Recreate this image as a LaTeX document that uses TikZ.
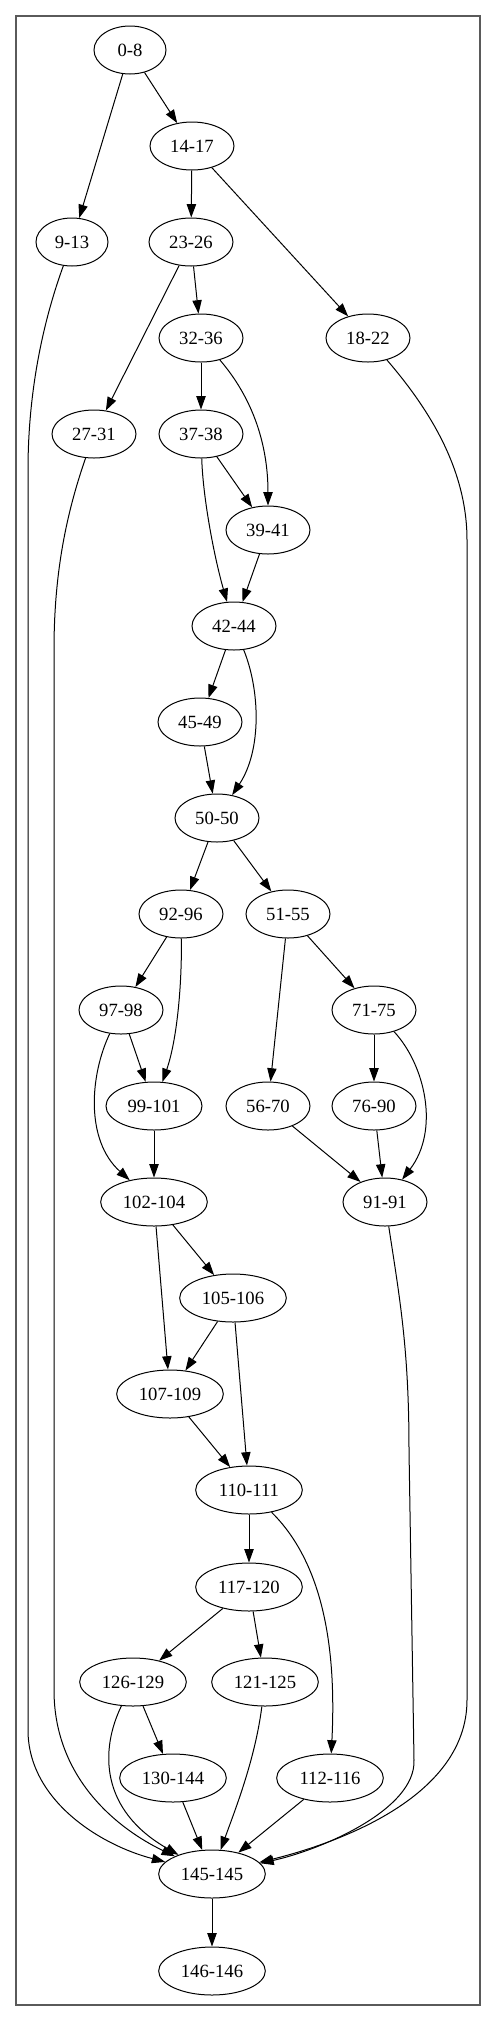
\documentclass[tikz,border=0pt]{standalone}
\usepackage{fontspec}
\setmainfont{Liberation Serif}
\usetikzlibrary{arrows.meta,positioning,calc}
\usetikzlibrary{shapes}

\definecolor{framegray}{RGB}{90,90,90}

\tikzset{
  rng/.style={draw, ellipse, line width=0.75pt, minimum height=36pt,
    minimum width=#1, inner sep=0pt, font=\fontsize{14}{16}\selectfont},
  rng/.default=63pt,
  >={Triangle[length=10pt,width=7pt]},
}

\begin{document}
\begin{tikzpicture}[x=0.75pt,y=-0.75pt,line width=0.75pt]
      \useasboundingbox (0,0) rectangle (496,2021);
      \draw[framegray,line width=1.5pt] (16,16) rectangle (480,2005);

      \node[rng=54pt] (b0) at (130,50) {0-8};
      \node[rng] (b14) at (192,146) {14-17};
      \node[rng=54pt] (b9) at (72,242) {9-13};
      \node[rng] (b23) at (191,242) {23-26};
      \node[rng] (b32) at (201,338) {32-36};
      \node[rng] (b18) at (368,338) {18-22};
      \node[rng] (b27) at (94,434) {27-31};
      \node[rng] (b37) at (201,434) {37-38};
      \node[rng] (b39) at (268,530) {39-41};
      \node[rng] (b42) at (234,626) {42-44};
      \node[rng] (b45) at (200,722) {45-49};
      \node[rng] (b50) at (217,818) {50-50};

      \node[rng] (b92) at (181,914) {92-96};
      \node[rng] (b51) at (288,914) {51-55};
      \node[rng] (b97) at (121,1010) {97-98};
      \node[rng] (b71) at (374,1010) {71-75};
      \node[rng=72pt] (b99) at (154,1106) {99-101};
      \node[rng] (b56) at (268,1106) {56-70};
      \node[rng] (b76) at (374,1106) {76-90};
      \node[rng=80pt] (b102) at (154,1202) {102-104};
      \node[rng] (b91) at (385,1202) {91-91};

      \node[rng=80pt] (b105) at (233,1298) {105-106};
      \node[rng=80pt] (b107) at (170,1394) {107-109};
      \node[rng=80pt] (b110) at (249,1490) {110-111};
      \node[rng=80pt,below = 36pt of b110] (b117) {117-120};
      \node[rng=80pt] (b126) at (133,1682) {126-129};
      \node[rng=80pt] (b121) at (265,1682) {121-125};
      \node[rng=80pt] (b130) at (173,1778) {130-144};
      \node[rng=80pt] (b112) at (330,1778) {112-116};
      \node[rng=80pt] (b145) at (212,1874) {145-145};
      \node[rng=80pt,below = 36pt of b145] (b146) {146-146};

      \draw[->] (b0)--(b14);
      \draw[->] (b0)--(b9);
      \draw[->] (b14)--(b23);
      \draw[->] (b14)--(b18);
      \draw[->] (b23)--(b32);
      \draw[->] (b23)--(b27);
      \draw[->] (b32)--(b37);
      \draw[->] (b32) .. controls (250,395) and (268,440) .. (b39);
      \draw[->] (b37)--(b39);
      \draw[->] (b37) .. controls (203,500) and (215,560) .. (b42);
      \draw[->] (b39)--(b42);
      \draw[->] (b42)--(b45);
      \draw[->] (b42) .. controls (260,690) and (262,750) .. (b50);
      \draw[->] (b45)--(b50);

      \draw[->] (b50)--(b92);
      \draw[->] (b50)--(b51);
      \draw[->] (b92)--(b97);
      \draw[->] (b92) .. controls (182,985) and (177,1040) .. (b99);
      \draw[->] (b51)--(b56);
      \draw[->] (b51)--(b71);
      \draw[->] (b97)--(b99);
      \draw[->] (b97) .. controls (90,1075) and (85,1140) .. (b102);
      \draw[->] (b71)--(b76);
      \draw[->] (b71) .. controls (425,1065) and (440,1130) .. (b91);
      \draw[->] (b99)--(b102);
      \draw[->] (b56)--(b91);
      \draw[->] (b76)--(b91);

      \draw[->] (b102)--(b105);
      \draw[->] (b102)--(b107);
      \draw[->] (b105)--(b107);
      \draw[->] (b105)--(b110);
      \draw[->] (b107)--(b110);
      \draw[->] (b110)--(b117);
      \draw[->] (b110) .. controls (320,1560) and (337,1640) .. (b112);
      \draw[->] (b117)--(b126);
      \draw[->] (b117)--(b121);
      \draw[->] (b126)--(b130);
      \draw[->] (b126) .. controls (100,1750) and (100,1810) .. (b145);
      \draw[->] (b121) .. controls (255,1760) and (235,1810) .. (b145);
      \draw[->] (b130)--(b145);
      \draw[->] (b112)--(b145);
      \draw[->] (b145)--(b146);

      % long edges round the sides
      \draw[->] (b9) .. controls (40,330) and (28,400) .. (28,470)
        -- (28,1730) .. controls (28,1800) and (100,1845) .. (b145);
      \draw[->] (b27) .. controls (64,520) and (54,580) .. (54,650)
        -- (54,1690) .. controls (54,1780) and (120,1830) .. (b145);
      \draw[->] (b18) .. controls (430,410) and (467,470) .. (467,540)
        -- (467,1700) .. controls (467,1800) and (330,1845) .. (b145);
      \draw[->] (b91) .. controls (400,1300) and (409,1350) .. (409,1450)
        -- (414,1760) .. controls (416,1810) and (320,1850) .. (b145);

    \end{tikzpicture}
\end{document}
